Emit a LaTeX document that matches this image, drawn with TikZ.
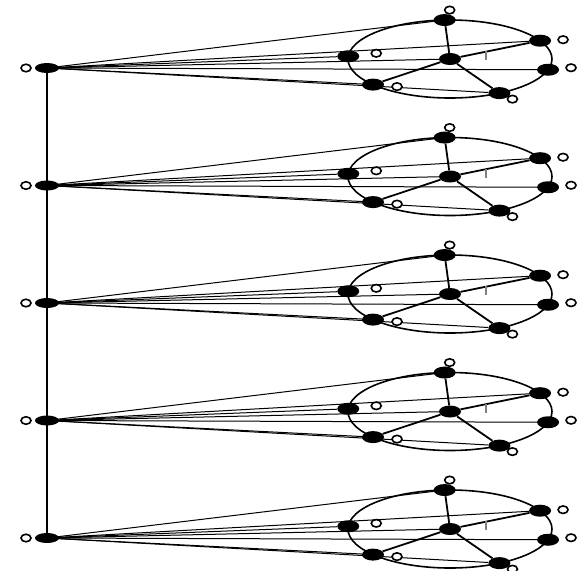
\documentclass[tikz,border=0pt]{standalone}
\usetikzlibrary{positioning,shapes.geometric,calc}
\begin{document}
\begin{tikzpicture}[
  x=1pt,y=-1pt,
  joint/.style={shape=ellipse,fill=black,inner sep=0pt,minimum width=22pt,minimum height=12pt},
  hub/.style={shape=ellipse,fill=black,inner sep=0pt,minimum width=24pt,minimum height=10pt},
  port/.style={shape=ellipse,draw=black,line width=1.6pt,fill=white,inner sep=0pt,minimum width=10pt,minimum height=7.5pt},
  fan/.style={draw=black,line width=1pt},
  rim/.style={draw=black,line width=1.6pt},
  spoke/.style={draw=black,line width=1.8pt}
]
\useasboundingbox (0,0) rectangle (578,570);
\foreach \i in {1,...,5}{
  \pgfmathsetmacro{\hy}{68+117.5*(\i-1)}
  \node[hub] (hub\i) at (47,\hy) {};
  \coordinate (c\i) at (450,\hy-9);
  \draw[rim] (c\i) ellipse (102 and 39);
  % wheel joints
  \node[joint] (m\i) at (c\i) {};
  \path (c\i) ++(-93:102 and 39) node[joint] (t\i) {};
  \path (c\i) ++(-28:102 and 39) node[joint] (ur\i) {};
  \path (c\i) ++(16:102 and 39) node[joint] (r\i) {};
  \path (c\i) ++(61:102 and 39) node[joint] (br\i) {};
  \path (c\i) ++(139:102 and 39) node[joint] (bl\i) {};
  \path (c\i) ++(184:102 and 39) node[joint] (l\i) {};
  % fan from the hub
  \foreach \w in {t,ur,l,m,r,bl,br}
    \draw[fan] (hub\i.center) -- (\w\i);
  % spokes
  \foreach \w in {t,ur,bl,br}
    \draw[spoke] (m\i) -- (\w\i);
  \draw[gray,line width=1.6pt] ($(c\i)+(36,-8)$) -- ($(c\i)+(36,1)$);
  % open ports
  \node[port,left=3pt of hub\i] (in\i) {};
  \node[port] (tp\i) at ($(t\i)+(5,-10)$) {};
  \node[port] (urp\i) at ($(ur\i)+(23,-1)$) {};
  \node[port] (rp\i) at ($(r\i)+(23,-2)$) {};
  \node[port] (brp\i) at ($(br\i)+(13,6)$) {};
  \node[port] (blp\i) at ($(bl\i)+(24,2)$) {};
  \node[port] (lp\i) at ($(l\i)+(28,-3)$) {};
}
\draw[line width=2.2pt] (hub1.center) -- (hub5.center);
\end{tikzpicture}
\end{document}
